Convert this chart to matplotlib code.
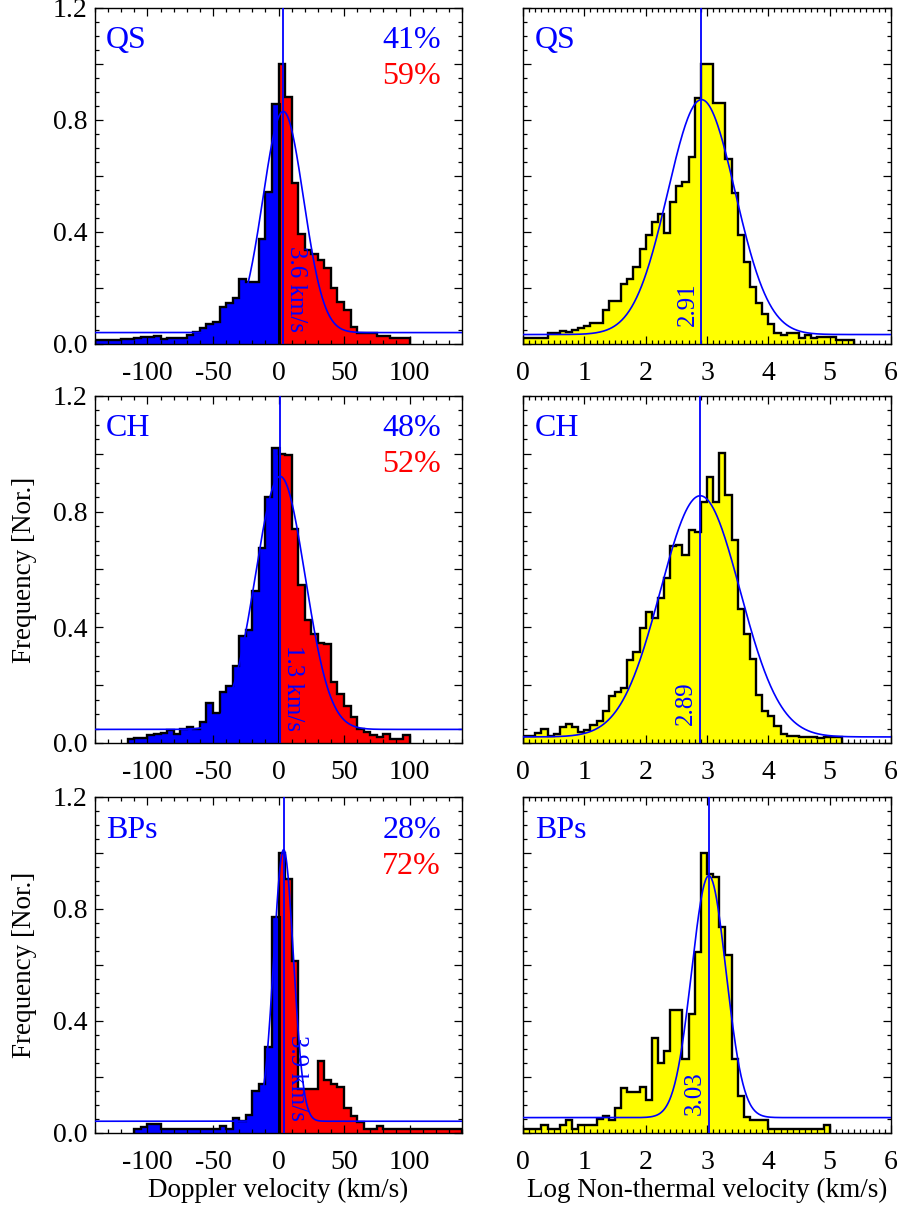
import numpy as np
import matplotlib
matplotlib.use("Agg")
import matplotlib.pyplot as plt
from matplotlib.ticker import MultipleLocator, FuncFormatter

plt.rcParams['font.family'] = ['Liberation Serif', 'DejaVu Serif']
plt.rcParams['axes.unicode_minus'] = False

regions = ["QS", "CH", "BPs"]
blue_pct = ["41%", "48%", "28%"]
red_pct = ["59%", "52%", "72%"]

# Doppler velocity histograms (5 km/s bins), first bin left edge in dop_start
dop_width = 5
dop_start = [-140, -115, -110]
dop_qs = [0.012, 0.012, 0.012, 0.012, 0.015, 0.015, 0.018, 0.022, 0.022, 0.028,
          0.016, 0.018, 0.02, 0.02, 0.03, 0.04, 0.057, 0.07, 0.077, 0.13,
          0.146, 0.163, 0.229, 0.22, 0.22, 0.375, 0.54, 0.857, 1.0, 0.88,
          0.574, 0.39, 0.333, 0.32, 0.30, 0.27, 0.2, 0.15, 0.12, 0.06,
          0.036, 0.036, 0.036, 0.026, 0.026, 0.018, 0.018, 0.018]
dop_ch = [0.013, 0.018, 0.018, 0.026, 0.03, 0.034, 0.044, 0.032, 0.05, 0.055,
          0.05, 0.072, 0.139, 0.104, 0.175, 0.198, 0.265, 0.37, 0.391, 0.525,
          0.674, 0.852, 1.02, 1.0, 0.995, 0.74, 0.546, 0.425, 0.378, 0.347,
          0.342, 0.21, 0.17, 0.127, 0.09, 0.049, 0.038, 0.029, 0.02, 0.032,
          0.015, 0.015, 0.026]
dop_bp = [0.015, 0.02, 0.033, 0.033, 0.015, 0.015, 0.015, 0.015, 0.015, 0.015,
          0.015, 0.015, 0.015, 0.025, 0.015, 0.053, 0.042, 0.065, 0.149, 0.176,
          0.307, 0.773, 1.0, 0.907, 0.616, 0.158, 0.158, 0.158, 0.256, 0.188,
          0.176, 0.166, 0.09, 0.059, 0.039, 0.015, 0.015, 0.024, 0.015, 0.015,
          0.015, 0.015, 0.015, 0.015, 0.015, 0.015, 0.015, 0.015, 0.015, 0.015]

# Log non-thermal velocity histograms (0.1 bins starting at 0)
nt_width = 0.1
nt_qs = [0.018, 0.018, 0.018, 0.018, 0.038, 0.038, 0.044, 0.042, 0.048, 0.054,
         0.062, 0.074, 0.074, 0.121, 0.151, 0.151, 0.214, 0.232, 0.274, 0.336,
         0.389, 0.435, 0.464, 0.395, 0.507, 0.562, 0.577, 0.667, 0.877, 1.0,
         1.0, 0.86, 0.86, 0.658, 0.538, 0.387, 0.292, 0.202, 0.145, 0.104,
         0.071, 0.036, 0.03, 0.038, 0.038, 0.02, 0.03, 0.018, 0.024, 0.024,
         0.024, 0.014, 0.014, 0.014]
nt_ch = [0.023, 0.023, 0.034, 0.049, 0.023, 0.032, 0.057, 0.067, 0.055, 0.038,
         0.046, 0.061, 0.076, 0.109, 0.162, 0.178, 0.19, 0.288, 0.313, 0.396,
         0.454, 0.433, 0.50, 0.571, 0.68, 0.683, 0.649, 0.737, 0.731, 0.833,
         0.921, 0.833, 1.003, 0.858, 0.703, 0.462, 0.376, 0.29, 0.166, 0.112,
         0.095, 0.058, 0.032, 0.023, 0.023, 0.02, 0.02, 0.02, 0.018, 0.02,
         0.02, 0.02]
nt_bp = [0.015, 0.015, 0.015, 0.03, 0.015, 0.015, 0.03, 0.045, 0.015, 0.03,
         0.03, 0.03, 0.049, 0.061, 0.048, 0.089, 0.162, 0.146, 0.146, 0.163,
         0.119, 0.339, 0.251, 0.293, 0.44, 0.44, 0.263, 0.426, 0.648, 1.0,
         0.925, 0.916, 0.737, 0.634, 0.265, 0.132, 0.057, 0.045, 0.045, 0.045,
         0.015, 0.015, 0.015, 0.015, 0.015, 0.015, 0.015, 0.015, 0.015, 0.03]

# gaussian fits: center, amplitude, sigma, constant
dop_fit = [(3.6, 0.79, 15.5, 0.039), (1.3, 0.875, 19.0, 0.047), (3.9, 0.97, 7.5, 0.042)]
nt_fit = [(2.91, 0.839, 0.55, 0.032), (2.89, 0.834, 0.65, 0.021), (3.03, 0.864, 0.28, 0.055)]
dop_text = ["3.6 km/s", "1.3 km/s", "3.9 km/s"]
nt_text = ["2.91", "2.89", "3.03"]

dop_hist = [dop_qs, dop_ch, dop_bp]
nt_hist = [nt_qs, nt_ch, nt_bp]

BLUE = "#0000ff"
RED = "#ff0000"
YEL = "#ffff00"

W, H = 902, 1209
fig = plt.figure(figsize=(W / 100, H / 100), dpi=100)

col_x = [95, 523]
col_w = [367, 368]
row_top = [7.5, 396, 797]
row_bot = [343.5, 743, 1133]


def style_axes(ax, xmaj, xmin, ylabels):
    ax.set_ylim(0, 1.2)
    ax.yaxis.set_major_locator(MultipleLocator(0.2))
    ax.yaxis.set_minor_locator(MultipleLocator(0.05))
    ax.xaxis.set_major_locator(MultipleLocator(xmaj))
    ax.xaxis.set_minor_locator(MultipleLocator(xmin))
    if ylabels:
        ax.yaxis.set_major_formatter(FuncFormatter(
            lambda v, p: "%.1f" % v if abs(v / 0.4 - round(v / 0.4)) < 1e-6 else ""))
    else:
        ax.set_yticklabels([])
    ax.tick_params(which='both', direction='in', top=True, right=True,
                   labelsize=20, width=0.9, colors='black')
    ax.tick_params(which='major', length=6)
    ax.tick_params(which='minor', length=3)
    ax.tick_params(axis='x', pad=12.5)
    ax.tick_params(axis='y', pad=5.5)
    for s in ax.spines.values():
        s.set_linewidth(1.0)


def gauss(x, p):
    c, a, s, b = p
    return b + a * np.exp(-(x - c) ** 2 / (2 * s ** 2))


for i in range(3):
    top, bot = row_top[i], row_bot[i]
    rect_y = 1 - bot / H
    rect_h = (bot - top) / H

    # ---- Doppler velocity
    ax = fig.add_axes([col_x[0] / W, rect_y, col_w[0] / W, rect_h])
    vals = np.array(dop_hist[i])
    edges = dop_start[i] + dop_width * np.arange(len(vals) + 1)
    neg = edges[1:] <= 0
    nneg = int(neg.sum())
    ax.stairs(vals[:nneg], edges[:nneg + 1], fill=True, color=BLUE, lw=0, zorder=1)
    ax.stairs(vals[nneg:], edges[nneg:], fill=True, color=RED, lw=0, zorder=1)
    ax.stairs(vals, edges, color='black', lw=1.7, zorder=2)
    ax.plot([0, 0], [0, vals[nneg - 1]], color='black', lw=2.2, zorder=2)
    xs = np.linspace(-140, 140, 600)
    ax.plot(xs, gauss(xs, dop_fit[i]), color=BLUE, lw=1.2, zorder=3)
    ax.axvline(dop_fit[i][0], color=BLUE, lw=1.3, zorder=3)
    ax.set_xlim(-140, 140)
    style_axes(ax, 50, 10, True)
    ax.annotate(regions[i], xy=(0, 1), xycoords='axes fraction', xytext=(11, -33),
                textcoords='offset pixels', ha='left', va='center', color=BLUE, fontsize=23)
    ax.annotate(blue_pct[i], xy=(1, 1), xycoords='axes fraction', xytext=(-21, -33),
                textcoords='offset pixels', ha='right', va='center', color=BLUE, fontsize=23)
    ax.annotate(red_pct[i], xy=(1, 1), xycoords='axes fraction', xytext=(-21, -69),
                textcoords='offset pixels', ha='right', va='center', color=RED, fontsize=23)
    ax.annotate(dop_text[i], xy=(dop_fit[i][0], 0), xycoords=('data', 'axes fraction'),
                xytext=(2, 12), textcoords='offset pixels', rotation=-90,
                ha='left', va='bottom', color=BLUE, fontsize=18)
    if i == 2:
        ax.set_xlabel("Doppler velocity (km/s)", fontsize=19.5, labelpad=2)

    # ---- Log non-thermal velocity
    ax = fig.add_axes([col_x[1] / W, rect_y, col_w[1] / W, rect_h])
    vals = np.array(nt_hist[i])
    edges = nt_width * np.arange(len(vals) + 1)
    ax.stairs(vals, edges, fill=True, color=YEL, lw=0, zorder=1)
    ax.stairs(vals, edges, color='black', lw=1.7, zorder=2)
    xs = np.linspace(0, 6, 600)
    ax.plot(xs, gauss(xs, nt_fit[i]), color=BLUE, lw=1.2, zorder=3)
    ax.axvline(nt_fit[i][0], color=BLUE, lw=1.3, zorder=3)
    ax.set_xlim(0, 6)
    style_axes(ax, 1, 0.1, False)
    ax.annotate(regions[i], xy=(0, 1), xycoords='axes fraction', xytext=(12, -33),
                textcoords='offset pixels', ha='left', va='center', color=BLUE, fontsize=23)
    ax.annotate(nt_text[i], xy=(nt_fit[i][0], 0), xycoords=('data', 'axes fraction'),
                xytext=(-3, 18), textcoords='offset pixels', rotation=90,
                ha='right', va='bottom', color=BLUE, fontsize=18)
    if i == 2:
        ax.set_xlabel("Log Non-thermal velocity (km/s)", fontsize=19.5, labelpad=2)

    if i > 0:
        fig.text(25 / W, 1 - (top + bot) / 2 / H, "Frequency [Nor.]", rotation=90,
                 ha='center', va='center', fontsize=19.5)

fig.savefig("out.png", dpi=100)
